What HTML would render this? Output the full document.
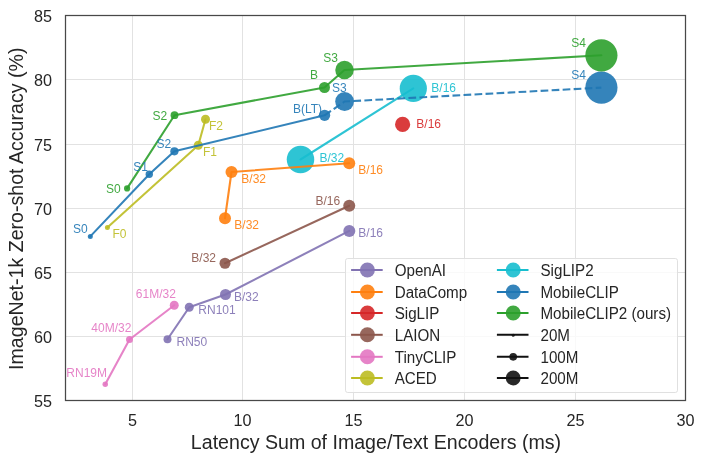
<!DOCTYPE html>
<html><head><meta charset="utf-8"><style>
html,body{margin:0;padding:0;background:#fff;}
svg{display:block;}
#w{width:704px;height:462px;will-change:transform;}
text{font-family:"Liberation Sans",sans-serif;}
</style></head><body><div id="w">
<svg width="704" height="462" viewBox="0 0 704 462">
<rect x="0" y="0" width="704" height="462" fill="#fff"/>
<g stroke="#e2e2e2" stroke-width="1"><line x1="132.5" y1="15.5" x2="132.5" y2="400.5"/><line x1="242.5" y1="15.5" x2="242.5" y2="400.5"/><line x1="353.5" y1="15.5" x2="353.5" y2="400.5"/><line x1="464.5" y1="15.5" x2="464.5" y2="400.5"/><line x1="575.5" y1="15.5" x2="575.5" y2="400.5"/><line x1="65.5" y1="79.5" x2="685.5" y2="79.5"/><line x1="65.5" y1="144.5" x2="685.5" y2="144.5"/><line x1="65.5" y1="208.5" x2="685.5" y2="208.5"/><line x1="65.5" y1="272.5" x2="685.5" y2="272.5"/><line x1="65.5" y1="336.5" x2="685.5" y2="336.5"/></g>
<path d="M167.5,339.25 L189.25,307.25 L225.5,294.5 L349.3,230.9" fill="none" stroke="#8172b2" stroke-width="2.08" stroke-opacity="0.9" stroke-linejoin="round" stroke-linecap="round"/>
<circle cx="167.5" cy="339.25" r="4.0" fill="#8172b2" fill-opacity="0.9"/>
<circle cx="189.25" cy="307.25" r="4.5" fill="#8172b2" fill-opacity="0.9"/>
<circle cx="225.5" cy="294.5" r="5.5" fill="#8172b2" fill-opacity="0.9"/>
<circle cx="349.3" cy="230.9" r="6.0" fill="#8172b2" fill-opacity="0.9"/>
<path d="M105.25,384.25 L129.5,339.5 L174.25,305.25" fill="none" stroke="#e377c2" stroke-width="2.08" stroke-opacity="0.9" stroke-linejoin="round" stroke-linecap="round"/>
<circle cx="105.25" cy="384.25" r="2.75" fill="#e377c2" fill-opacity="0.9"/>
<circle cx="129.5" cy="339.5" r="3.5" fill="#e377c2" fill-opacity="0.9"/>
<circle cx="174.25" cy="305.25" r="4.5" fill="#e377c2" fill-opacity="0.9"/>
<path d="M225,263.25 L349.25,205.7" fill="none" stroke="#8c564b" stroke-width="2.08" stroke-opacity="0.9" stroke-linejoin="round" stroke-linecap="round"/>
<circle cx="225" cy="263.25" r="5.5" fill="#8c564b" fill-opacity="0.9"/>
<circle cx="349.25" cy="205.7" r="6.0" fill="#8c564b" fill-opacity="0.9"/>
<path d="M107.4,227.4 L198.3,145.2 L205.5,119.2" fill="none" stroke="#bcbd22" stroke-width="2.08" stroke-opacity="0.9" stroke-linejoin="round" stroke-linecap="round"/>
<circle cx="107.4" cy="227.4" r="2.5" fill="#bcbd22" fill-opacity="0.9"/>
<circle cx="198.3" cy="145.2" r="4.5" fill="#bcbd22" fill-opacity="0.9"/>
<circle cx="205.5" cy="119.2" r="4.5" fill="#bcbd22" fill-opacity="0.9"/>
<circle cx="402.6" cy="124.4" r="7.6" fill="#d62728" fill-opacity="0.9"/>
<path d="M300.5,159.5 L413.3,88.4" fill="none" stroke="#17becf" stroke-width="2.08" stroke-opacity="0.9" stroke-linejoin="round" stroke-linecap="round"/>
<circle cx="300.5" cy="159.5" r="13.75" fill="#17becf" fill-opacity="0.9"/>
<circle cx="413.3" cy="88.4" r="13.6" fill="#17becf" fill-opacity="0.9"/>
<path d="M225,218.25 L231.5,172 L349.25,163.25" fill="none" stroke="#ff7f0e" stroke-width="2.08" stroke-opacity="0.9" stroke-linejoin="round" stroke-linecap="round"/>
<circle cx="225" cy="218.25" r="6.0" fill="#ff7f0e" fill-opacity="0.9"/>
<circle cx="231.5" cy="172" r="6.0" fill="#ff7f0e" fill-opacity="0.9"/>
<circle cx="349.25" cy="163.25" r="6.0" fill="#ff7f0e" fill-opacity="0.9"/>
<path d="M90.3,236.4 L149.3,174.2 L174.4,151.3 L324.6,115.3" fill="none" stroke="#1f77b4" stroke-width="2.08" stroke-opacity="0.9" stroke-linejoin="round" stroke-linecap="round"/>
<path d="M324.6,115.3 L344.6,101.5 L601.4,87.6" fill="none" stroke="#1f77b4" stroke-width="2.08" stroke-opacity="0.9" stroke-dasharray="7.7,3.33"/>
<circle cx="90.3" cy="236.4" r="2.5" fill="#1f77b4" fill-opacity="0.9"/>
<circle cx="149.3" cy="174.2" r="3.7" fill="#1f77b4" fill-opacity="0.9"/>
<circle cx="174.4" cy="151.3" r="4.1" fill="#1f77b4" fill-opacity="0.9"/>
<circle cx="324.6" cy="115.3" r="5.6" fill="#1f77b4" fill-opacity="0.9"/>
<circle cx="344.6" cy="101.5" r="9.4" fill="#1f77b4" fill-opacity="0.9"/>
<circle cx="601.4" cy="87.6" r="16.1" fill="#1f77b4" fill-opacity="0.9"/>
<path d="M127.1,188.4 L174.5,115.2 L324.5,87.5 L344.5,70 L601.4,55.3" fill="none" stroke="#2ca02c" stroke-width="2.08" stroke-opacity="0.9" stroke-linejoin="round" stroke-linecap="round"/>
<circle cx="127.1" cy="188.4" r="3.1" fill="#2ca02c" fill-opacity="0.9"/>
<circle cx="174.5" cy="115.2" r="3.9" fill="#2ca02c" fill-opacity="0.9"/>
<circle cx="324.5" cy="87.5" r="5.5" fill="#2ca02c" fill-opacity="0.9"/>
<circle cx="344.5" cy="70" r="9.25" fill="#2ca02c" fill-opacity="0.9"/>
<circle cx="601.4" cy="55.3" r="16.1" fill="#2ca02c" fill-opacity="0.9"/>
<g font-size="12" fill-opacity="0.9"><text x="73.1" y="232.50" fill="#1f77b4">S0</text><text x="133.3" y="170.70" fill="#1f77b4">S1</text><text x="156.5" y="148.30" fill="#1f77b4">S2</text><text x="293" y="112.50" fill="#1f77b4">B(LT)</text><text x="332.1" y="92.00" fill="#1f77b4">S3</text><text x="571.2" y="79.00" fill="#1f77b4">S4</text><text x="106.0" y="192.90" fill="#2ca02c">S0</text><text x="152.6" y="120.10" fill="#2ca02c">S2</text><text x="310" y="78.90" fill="#2ca02c">B</text><text x="323.3" y="62.20" fill="#2ca02c">S3</text><text x="571.2" y="47.20" fill="#2ca02c">S4</text><text x="112.5" y="238.10" fill="#bcbd22">F0</text><text x="203" y="155.90" fill="#bcbd22">F1</text><text x="209" y="130.40" fill="#bcbd22">F2</text><text x="241.3" y="183.10" fill="#ff7f0e">B/32</text><text x="234.3" y="228.60" fill="#ff7f0e">B/32</text><text x="358.3" y="173.90" fill="#ff7f0e">B/16</text><text x="319.5" y="162.40" fill="#17becf">B/32</text><text x="431.3" y="91.90" fill="#17becf">B/16</text><text x="416.3" y="127.60" fill="#d62728">B/16</text><text x="315.5" y="204.90" fill="#8c564b">B/16</text><text x="191.3" y="261.90" fill="#8c564b">B/32</text><text x="358.3" y="236.90" fill="#8172b2">B/16</text><text x="234" y="301.30" fill="#8172b2">B/32</text><text x="198.3" y="313.60" fill="#8172b2">RN101</text><text x="176.5" y="345.60" fill="#8172b2">RN50</text><text x="135.8" y="298.10" fill="#e377c2">61M/32</text><text x="91.3" y="331.90" fill="#e377c2">40M/32</text><text x="66.3" y="377.40" fill="#e377c2">RN19M</text></g>
<rect x="65.5" y="15.5" width="620.0" height="385.0" fill="none" stroke="#484848" stroke-width="1.25"/>
<g font-size="16.2" fill="#262626"><text x="132.5" y="426" text-anchor="middle">5</text><text x="242.5" y="426" text-anchor="middle">10</text><text x="353.5" y="426" text-anchor="middle">15</text><text x="464.5" y="426" text-anchor="middle">20</text><text x="575.5" y="426" text-anchor="middle">25</text><text x="685.5" y="426" text-anchor="middle">30</text><text x="52" y="407.10" text-anchor="end">55</text><text x="52" y="343.10" text-anchor="end">60</text><text x="52" y="279.10" text-anchor="end">65</text><text x="52" y="215.10" text-anchor="end">70</text><text x="52" y="151.10" text-anchor="end">75</text><text x="52" y="86.10" text-anchor="end">80</text><text x="52" y="22.10" text-anchor="end">85</text></g>
<text x="376" y="449" text-anchor="middle" font-size="19.6" fill="#262626">Latency Sum of Image/Text Encoders (ms)</text>
<text transform="translate(23.3,208.75) rotate(-90)" text-anchor="middle" font-size="19.6" fill="#262626">ImageNet-1k Zero-shot Accuracy (%)</text>
<rect x="345.5" y="258.5" width="332.0" height="134.0" rx="2.2" ry="2.2" fill="#fff" fill-opacity="0.8" stroke="#e0e0e0" stroke-opacity="1" stroke-width="1"/>
<line x1="351.1" y1="270.0" x2="382.70000000000005" y2="270.0" stroke="#8172b2" stroke-width="2"/><circle cx="367.40000000000003" cy="270.0" r="7.5" fill="#8172b2" fill-opacity="0.9"/><text transform="translate(394.70,276.00) scale(0.985,1.04)" font-size="15.4" fill="#262626">OpenAI</text>
<line x1="351.1" y1="292.0" x2="382.70000000000005" y2="292.0" stroke="#ff7f0e" stroke-width="2"/><circle cx="367.40000000000003" cy="292.0" r="7.5" fill="#ff7f0e" fill-opacity="0.9"/><text transform="translate(394.70,298.00) scale(0.985,1.04)" font-size="15.4" fill="#262626">DataComp</text>
<line x1="351.1" y1="313.0" x2="382.70000000000005" y2="313.0" stroke="#d62728" stroke-width="2"/><circle cx="367.40000000000003" cy="313.0" r="7.5" fill="#d62728" fill-opacity="0.9"/><text transform="translate(394.70,319.00) scale(0.985,1.04)" font-size="15.4" fill="#262626">SigLIP</text>
<line x1="351.1" y1="334.8" x2="382.70000000000005" y2="334.8" stroke="#8c564b" stroke-width="2"/><circle cx="367.40000000000003" cy="334.8" r="7.5" fill="#8c564b" fill-opacity="0.9"/><text transform="translate(394.70,340.80) scale(0.985,1.04)" font-size="15.4" fill="#262626">LAION</text>
<line x1="351.1" y1="356.8" x2="382.70000000000005" y2="356.8" stroke="#e377c2" stroke-width="2"/><circle cx="367.40000000000003" cy="356.8" r="7.5" fill="#e377c2" fill-opacity="0.9"/><text transform="translate(394.70,362.80) scale(0.985,1.04)" font-size="15.4" fill="#262626">TinyCLIP</text>
<line x1="351.1" y1="378.0" x2="382.70000000000005" y2="378.0" stroke="#bcbd22" stroke-width="2"/><circle cx="367.40000000000003" cy="378.0" r="7.5" fill="#bcbd22" fill-opacity="0.9"/><text transform="translate(394.70,384.00) scale(0.985,1.04)" font-size="15.4" fill="#262626">ACED</text>
<line x1="496.9" y1="270.0" x2="528.5" y2="270.0" stroke="#17becf" stroke-width="2"/><circle cx="513.1999999999999" cy="270.0" r="7.5" fill="#17becf" fill-opacity="0.9"/><text transform="translate(540.50,276.00) scale(0.985,1.04)" font-size="15.4" fill="#262626">SigLIP2</text>
<line x1="496.9" y1="292.0" x2="528.5" y2="292.0" stroke="#1f77b4" stroke-width="2"/><circle cx="513.1999999999999" cy="292.0" r="7.5" fill="#1f77b4" fill-opacity="0.9"/><text transform="translate(540.50,298.00) scale(0.985,1.04)" font-size="15.4" fill="#262626">MobileCLIP</text>
<line x1="496.9" y1="313.0" x2="528.5" y2="313.0" stroke="#2ca02c" stroke-width="2"/><circle cx="513.1999999999999" cy="313.0" r="7.5" fill="#2ca02c" fill-opacity="0.9"/><text transform="translate(540.50,319.00) scale(0.985,1.04)" font-size="15.4" fill="#262626">MobileCLIP2 (ours)</text>
<line x1="496.9" y1="334.8" x2="528.5" y2="334.8" stroke="#111111" stroke-width="2"/><circle cx="513.1999999999999" cy="335.3" r="1.5" fill="#111111" fill-opacity="0.9"/><text transform="translate(540.50,340.80) scale(0.985,1.04)" font-size="15.4" fill="#262626">20M</text>
<line x1="496.9" y1="356.8" x2="528.5" y2="356.8" stroke="#111111" stroke-width="2"/><circle cx="513.1999999999999" cy="356.8" r="3.85" fill="#111111" fill-opacity="0.9"/><text transform="translate(540.50,362.80) scale(0.985,1.04)" font-size="15.4" fill="#262626">100M</text>
<line x1="496.9" y1="378.0" x2="528.5" y2="378.0" stroke="#111111" stroke-width="2"/><circle cx="513.1999999999999" cy="378.0" r="7.45" fill="#111111" fill-opacity="0.9"/><text transform="translate(540.50,384.00) scale(0.985,1.04)" font-size="15.4" fill="#262626">200M</text>
</svg></div>
</body></html>
